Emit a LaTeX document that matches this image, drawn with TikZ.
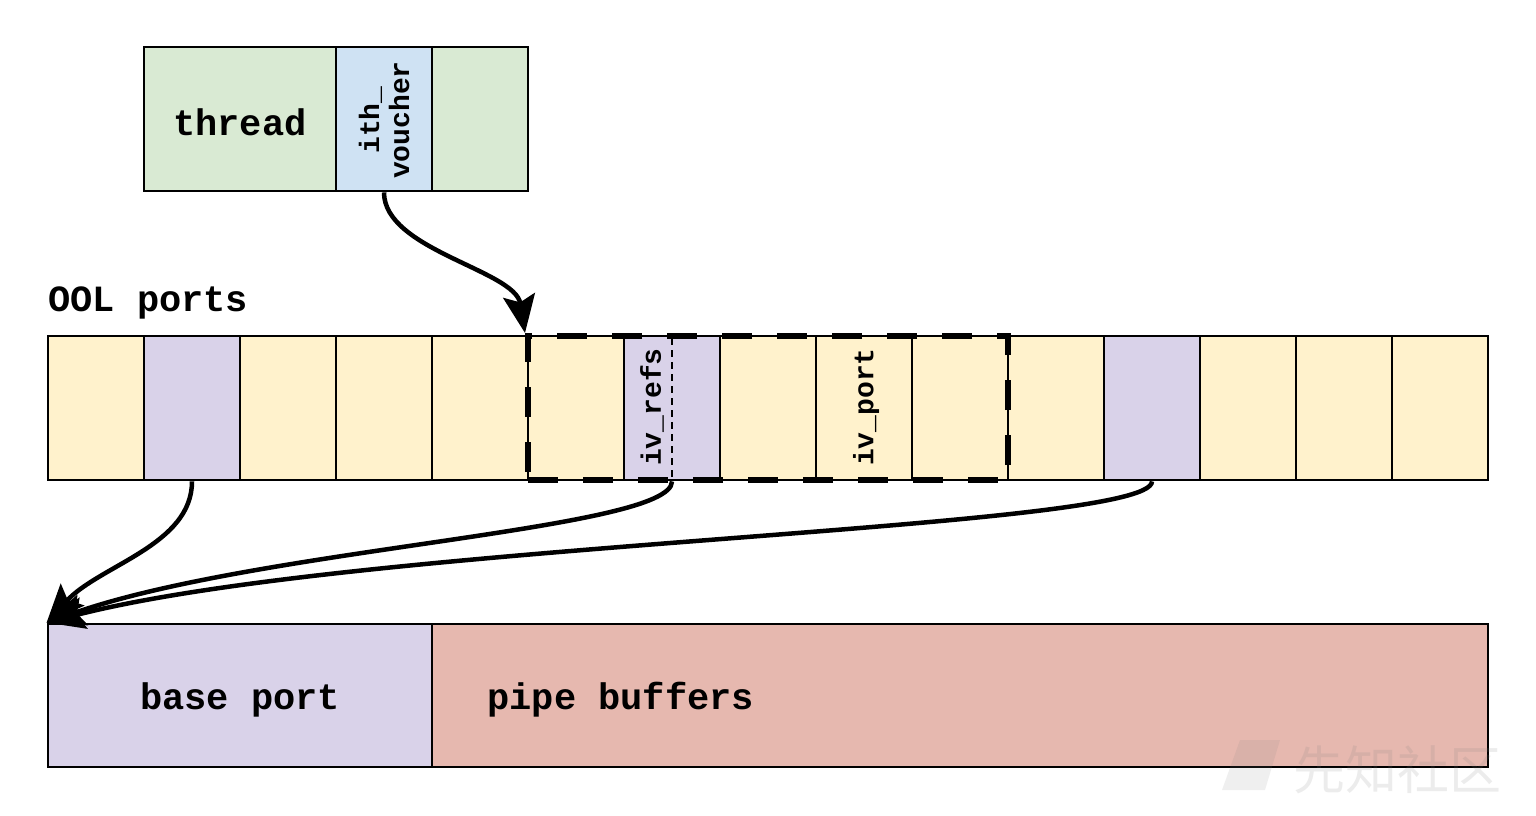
\documentclass[tikz,border=0pt]{standalone}
\usepackage{fontspec}
\setmonofont{Liberation Mono}
\newfontfamily\cjk{Noto Sans CJK SC}
\usetikzlibrary{arrows.meta}
\definecolor{cgreen}{HTML}{D9EAD3}
\definecolor{cblue}{HTML}{CFE2F3}
\definecolor{cyellow}{HTML}{FFF2CC}
\definecolor{cpurple}{HTML}{D9D2E9}
\definecolor{cpink}{HTML}{E6B8AF}
\begin{document}
\begin{tikzpicture}[x=1pt,y=-1pt,
  cell/.style={draw=black,line width=2.8pt,rectangle,inner sep=0pt,minimum width=96pt,minimum height=144pt,fill=cyellow},
  lbl/.style={font=\fontsize{37}{40}\selectfont\ttfamily\bfseries},
  rlbl/.style={font=\fontsize{28}{30}\selectfont\ttfamily\bfseries,rotate=90,align=center,inner sep=0pt},
  conn/.style={line width=4.5pt,-{Stealth[length=38pt,width=32pt,inset=7pt]}}]
\useasboundingbox (0,0) rectangle (1536,816);
\fill[white] (0,0) rectangle (1536,816);
% thread
\node[cell,fill=cgreen,minimum width=192pt] (th) at (240,119) {};
\node[cell,fill=cblue] (iv) at (384,119) {};
\node[cell,fill=cgreen] (th2) at (480,119) {};
\node[lbl] (thl) at (240,122) {thread};
\node[rlbl] (ivl) at (384,120) {ith\_\\voucher};
% OOL ports
\node[lbl,anchor=west,inner sep=0pt] (ool) at (48,303) {OOL ports};
\foreach \i in {1,...,15}{
  \node[cell] (c\i) at ({48+96*\i-48},408) {};
}
\foreach \i in {2,7,12}{
  \node[cell,fill=cpurple] at ({48+96*\i-48},408) {};
}
\draw[line width=1.5pt,dash pattern=on 7pt off 5pt] (672,338) -- (672,478);
\node[rlbl] (refs) at (652,407) {iv\_refs};
\node[rlbl] (port) at (866,407) {iv\_port};
\node[draw=black,line width=6pt,dash pattern=on 30pt off 25pt,minimum width=480pt,minimum height=144pt,inner sep=0pt] (dbox) at (768,408) {};
% bottom
\node[cell,fill=cpurple,minimum width=384pt,minimum height=143pt] (base) at (240,695.5) {};
\node[cell,fill=cpink,minimum width=1056pt,minimum height=143pt] (pipe) at (960,695.5) {};
\node[lbl] (basel) at (240,700) {base port};
\node[lbl,anchor=west] (pipel) at (484,700) {pipe buffers};
% arrows
\draw[conn] (iv.south) .. controls (384,250) and (515,270) .. (dbox.north west);
\draw[conn] (c2.south) .. controls (192,545) and (100,565) .. (base.north west);
\draw[conn] (c7.south) .. controls (672,530) and (260,548) .. (base.north west);
\draw[conn] (c12.south) .. controls (1152,530) and (360,542) .. (base.north west);
% watermark
\fill[gray,opacity=0.12] (1222,790) -- (1240,740) -- (1280,740) -- (1265,790) -- cycle;
\node[text=gray,opacity=0.15,font=\fontsize{52}{56}\selectfont\cjk,anchor=west,inner sep=0pt] (wm) at (1293,770) {先知社区};
\end{tikzpicture}
\end{document}
